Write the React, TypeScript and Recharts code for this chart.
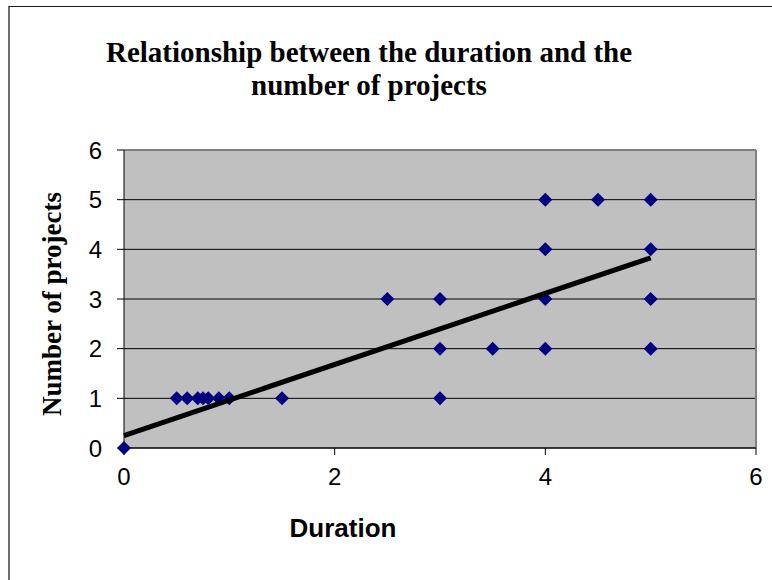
import React from "react";
import {
  ScatterChart,
  Scatter,
  XAxis,
  YAxis,
  CartesianGrid,
  ReferenceLine,
} from "recharts";

// observed projects
const durations = [0, 0.5, 0.6, 0.7, 0.75, 0.8, 0.9, 1, 1.5, 2.5, 3, 3, 3, 3.5, 4, 4, 4, 4, 4.5, 5, 5, 5, 5];
const projects = [0, 1, 1, 1, 1, 1, 1, 1, 1, 3, 3, 2, 1, 2, 5, 4, 3, 2, 5, 5, 4, 3, 2];

// linear trend line as drawn
const trendX = [0, 5];
const trendY = [0.25, 3.83];

const xTicks = [0, 2, 4, 6];
const yTicks = [0, 1, 2, 3, 4, 5, 6];

const points = durations.map((d, i) => ({ x: d, y: projects[i] }));
const trend = trendX.map((d, i) => ({ x: d, y: trendY[i] }));

const Diamond = (props: any) => {
  const { cx, cy } = props;
  const r = 7;
  return (
    <polygon
      points={`${cx},${cy - r} ${cx + r},${cy} ${cx},${cy + r} ${cx - r},${cy}`}
      fill="#000080"
    />
  );
};

const NoDot = () => <g />;

const tickStyle = { fontFamily: "'Liberation Sans', Arial, sans-serif", fontSize: 24, fill: "#000" };

export default function App() {
  return (
    <div
      style={{
        position: "fixed",
        left: 8,
        top: 6,
        width: 762,
        height: 580,
        borderTop: "1px solid #1a1a1a",
        borderLeft: "2px solid #6e6e6e",
        background: "#fff",
      }}
    >
      <div
        style={{
          position: "absolute",
          left: 359,
          top: 29,
          transform: "translateX(-50%)",
          whiteSpace: "nowrap",
          textAlign: "center",
          fontFamily: "'Liberation Serif', 'Times New Roman', serif",
          fontWeight: "bold",
          fontSize: 29,
          lineHeight: "33px",
        }}
      >
        Relationship between the duration and the
        <br />
        number of projects
      </div>
      <div
        style={{
          position: "absolute",
          left: 42,
          top: 297,
          transform: "translate(-50%, -50%) rotate(-90deg)",
          whiteSpace: "nowrap",
          fontFamily: "'Liberation Serif', 'Times New Roman', serif",
          fontWeight: "bold",
          fontSize: 27,
          lineHeight: "30px",
        }}
      >
        Number of projects
      </div>
      <div
        style={{
          position: "absolute",
          left: 333,
          top: 506,
          transform: "translateX(-50%)",
          whiteSpace: "nowrap",
          fontFamily: "'Liberation Sans', Arial, sans-serif",
          fontWeight: "bold",
          fontSize: 26,
          lineHeight: "30px",
        }}
      >
        Duration
      </div>
      <ScatterChart
        width={760}
        height={560}
        margin={{ top: 143, right: 14, bottom: 89, left: 54 }}
      >
        <CartesianGrid
          vertical={false}
          stroke="#000"
          fill="#c0c0c0"
          fillOpacity={1}
        />
        <XAxis
          type="number"
          dataKey="x"
          domain={[0, 6]}
          ticks={xTicks}
          height={30}
          tickSize={7}
          tickMargin={13}
          tick={tickStyle}
          axisLine={{ stroke: "#000" }}
          tickLine={{ stroke: "#000" }}
        />
        <YAxis
          type="number"
          dataKey="y"
          domain={[0, 6]}
          ticks={yTicks}
          width={60}
          tickSize={7}
          tickMargin={15}
          tick={tickStyle}
          axisLine={{ stroke: "#000" }}
          tickLine={{ stroke: "#000" }}
        />
        <ReferenceLine y={6} stroke="#808080" strokeWidth={2} />
        <ReferenceLine x={6} stroke="#808080" strokeWidth={2} />
        <Scatter
          data={points}
          shape={Diamond}
          isAnimationActive={false}
        />
        <Scatter
          data={trend}
          shape={NoDot}
          line={{ stroke: "#000", strokeWidth: 5 }}
          isAnimationActive={false}
        />
      </ScatterChart>
    </div>
  );
}
